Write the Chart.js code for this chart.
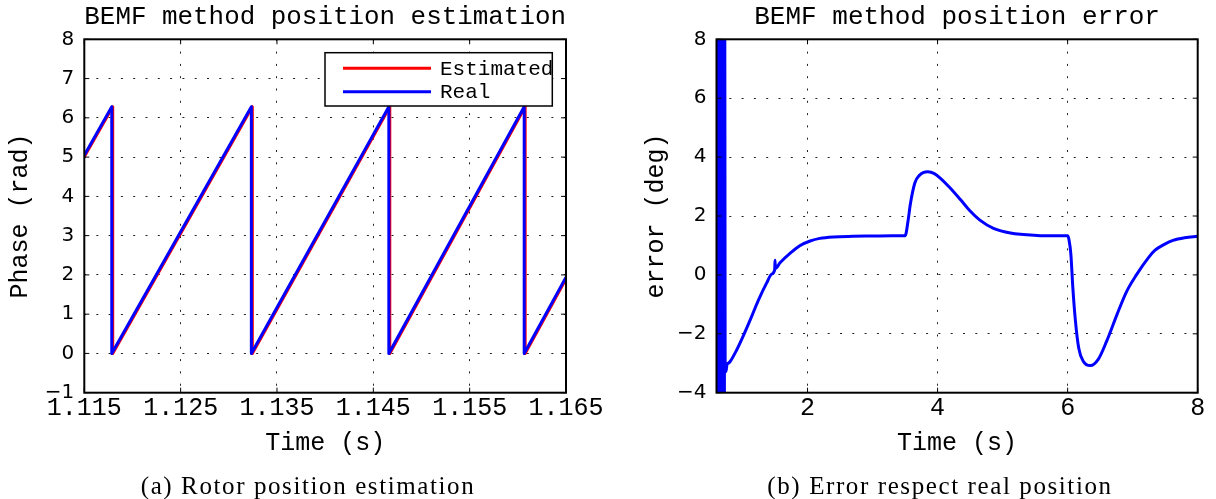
<!DOCTYPE html>
<html><head><meta charset="utf-8">
<script src="https://cdn.jsdelivr.net/npm/chart.js@4/dist/chart.umd.min.js"></script>
<style>
html,body{margin:0;padding:0;background:#fff;}
#wrap{position:relative;width:1216px;height:499px;overflow:hidden;background:#fff;}
canvas{position:absolute;top:0;}
.cap{position:absolute;font-family:'Liberation Serif',serif;font-size:25px;letter-spacing:1.6px;line-height:28px;text-align:center;color:#000;white-space:nowrap;}
</style></head><body>
<div id="wrap">
<canvas id="c1" width="620" height="499" style="left:0"></canvas>
<canvas id="c2" width="596" height="499" style="left:620px"></canvas>
<div class="cap" style="left:108px;width:400px;top:472px">(a) Rotor position estimation</div>
<div class="cap" style="left:740px;width:400px;top:472px">(b) Error respect real position</div>
</div>
<script>
// ---- data: left chart (rotor position) ----
const realTime  = [1.115, 1.11785, 1.11785, 1.13234, 1.13234, 1.14661, 1.14661, 1.16066, 1.16066, 1.165];
const realPhase = [5.05, 6.28, 0, 6.28, 0, 6.28, 0, 6.28, 0, 1.94];
const estTime   = [1.115, 1.11795, 1.11795, 1.13244, 1.13244, 1.14671, 1.14671, 1.16076, 1.16076, 1.165];
const estPhase  = [5.01, 6.28, 0, 6.28, 0, 6.28, 0, 6.28, 0, 1.90];
const phaseXTicks  = [1.115, 1.125, 1.135, 1.145, 1.155, 1.165];
const phaseXLabels = ['1.115', '1.125', '1.135', '1.145', '1.155', '1.165'];
const phaseYTicks  = [-1, 0, 1, 2, 3, 4, 5, 6, 7, 8];
const phaseYLabels = ['\u22121', '0', '1', '2', '3', '4', '5', '6', '7', '8'];

// ---- data: right chart (position error) ----
const errTime = [0.600, 0.606, 0.612, 0.618, 0.624, 0.630, 0.636, 0.642, 0.648, 0.654, 0.660, 0.666, 0.672, 0.678, 0.684, 0.690, 0.696, 0.702, 0.708, 0.714, 0.720, 0.726,
  0.733, 0.746, 0.760, 0.780, 0.810, 0.910, 1.010, 1.120, 1.240, 1.370, 1.450, 1.495, 1.500, 1.505, 1.580, 1.730, 1.880, 2.040, 2.190, 2.400, 2.700, 3.000, 3.300, 3.500,
  3.550, 3.580, 3.650, 3.720, 3.850, 3.950, 4.040, 4.190, 4.350, 4.500, 4.650, 4.860, 5.120, 5.530, 5.800, 6.000,
  6.020, 6.050, 6.080, 6.120, 6.170, 6.240, 6.350, 6.470, 6.600, 6.760, 6.910, 7.060, 7.240, 7.340, 7.480, 7.620, 7.800, 8.000];
const errValue = [-8, 12, -8, 12, -8, 12, -8, 12, -8, 12, -8, 12, -8, 12, -8, 12, -8, 12, -8, 12, -8, 12,
  -3.00, -3.28, -3.05, -3.00, -2.94, -2.55, -2.08, -1.52, -0.88, -0.28, 0.03, 0.18, 0.50, 0.22, 0.42, 0.73, 0.99, 1.15, 1.24, 1.29, 1.31, 1.32, 1.33, 1.33,
  1.90, 2.39, 3.12, 3.38, 3.50, 3.44, 3.29, 2.96, 2.56, 2.17, 1.86, 1.58, 1.42, 1.34, 1.33, 1.33,
  1.20, 0.69, -0.44, -1.57, -2.48, -2.93, -3.08, -2.87, -2.25, -1.34, -0.55, 0.01, 0.58, 0.83, 1.03, 1.17, 1.26, 1.31];
const errXTicks  = [2, 4, 6, 8];
const errXLabels = ['2', '4', '6', '8'];
const errYTicks  = [-4, -2, 0, 2, 4, 6, 8];
const errYLabels = ['\u22124', '\u22122', '0', '2', '4', '6', '8'];

const MONO = "'Liberation Mono', 'Courier New', monospace";
const SANS = "'DejaVu Sans', sans-serif";

const toXY = (xs, ys) => xs.map((x, i) => ({x: x, y: ys[i]}));

// frame, inward ticks and in-plot legend
const framePlugin = {
  id: 'frame',
  afterDraw(chart, args, opts) {
    const ctx = chart.ctx, a = chart.chartArea;
    ctx.save();
    ctx.strokeStyle = '#000';
    ctx.lineWidth = 1;
    ctx.setLineDash([]);
    const xs = chart.scales.x, ys = chart.scales.y;
    xs.ticks.forEach(t => {
      const px = xs.getPixelForValue(t.value);
      ctx.beginPath();
      ctx.moveTo(px, a.bottom); ctx.lineTo(px, a.bottom - 5);
      ctx.moveTo(px, a.top); ctx.lineTo(px, a.top + 5);
      ctx.stroke();
    });
    ys.ticks.forEach(t => {
      const py = ys.getPixelForValue(t.value);
      ctx.beginPath();
      ctx.moveTo(a.left, py); ctx.lineTo(a.left + 5, py);
      ctx.moveTo(a.right, py); ctx.lineTo(a.right - 5, py);
      ctx.stroke();
    });
    ctx.lineWidth = 2;
    ctx.strokeRect(a.left, a.top, a.right - a.left, a.bottom - a.top);
    if (opts && opts.legend) {
      const L = opts.legend;
      const bx = a.right - L.right - L.w, by = a.top + L.top;
      ctx.fillStyle = '#fff';
      ctx.fillRect(bx, by, L.w, L.h);
      ctx.lineWidth = 1.5;
      ctx.strokeRect(bx, by, L.w, L.h);
      ctx.font = '21px ' + MONO;
      ctx.textBaseline = 'middle';
      ctx.textAlign = 'left';
      chart.data.datasets.forEach((ds, i) => {
        const yy = by + L.row0 + i * L.rowGap;
        ctx.strokeStyle = ds.borderColor;
        ctx.lineWidth = 3;
        ctx.beginPath();
        ctx.moveTo(bx + 18, yy); ctx.lineTo(bx + 106, yy);
        ctx.stroke();
        ctx.fillStyle = '#000';
        ctx.fillText(ds.label, bx + 115, yy + 1);
      });
    }
    ctx.restore();
  }
};

function axisX(min, max, ticks, labels, titleText, height) {
  return {
    type: 'linear', min: min, max: max,
    afterBuildTicks: s => { s.ticks = ticks.map(v => ({value: v})); },
    afterFit: s => { s.height = height; s.paddingLeft = 0; s.paddingRight = 0; },
    ticks: { callback: (v, i) => labels[i], font: {family: MONO, size: 25}, color: '#000', padding: 1, maxRotation: 0, autoSkip: false },
    grid: { color: '#222', lineWidth: 1, drawTicks: false },
    border: { display: false, dash: [2, 10.3] },
    title: { display: true, text: titleText, font: {family: MONO, size: 25}, color: '#000', padding: {top: 0, bottom: 40.7} }
  };
}
function axisY(min, max, ticks, labels, titleText, width, titlePad) {
  return {
    type: 'linear', min: min, max: max,
    afterBuildTicks: s => { s.ticks = ticks.map(v => ({value: v})); },
    afterFit: s => { s.width = width; s.paddingTop = 0; s.paddingBottom = 0; },
    ticks: { callback: (v, i) => labels[i], font: {family: SANS, size: 20}, color: '#000', padding: 10, autoSkip: false },
    grid: { color: '#222', lineWidth: 1, drawTicks: false },
    border: { display: false, dash: [2, 10.3] },
    title: { display: true, text: titleText, font: {family: MONO, size: 25}, color: '#000', padding: {top: titlePad, bottom: 0} }
  };
}
function titleOpts(text) {
  return { display: true, text: text, fullSize: false, color: '#000',
    font: {family: MONO, size: 26, weight: 'normal', lineHeight: 1.2}, padding: {top: 2, bottom: 6.1} };
}

new Chart(document.getElementById('c1'), {
  type: 'line',
  data: { datasets: [
    { label: 'Estimated', data: toXY(estTime, estPhase), borderColor: '#ff0000', borderWidth: 3, borderJoinStyle: 'round', pointRadius: 0, tension: 0, order: 1 },
    { label: 'Real', data: toXY(realTime, realPhase), borderColor: '#0000ff', borderWidth: 3, borderJoinStyle: 'round', pointRadius: 0, tension: 0, order: 0 }
  ]},
  options: {
    responsive: false, animation: false, devicePixelRatio: 1,
    layout: { padding: {left: 0, right: 54, top: 0, bottom: 0} },
    plugins: {
      legend: {display: false}, tooltip: {enabled: false},
      title: titleOpts('BEMF method position estimation'),
      frame: { legend: {right: 13.7, top: 13.4, w: 227.3, h: 53.3, row0: 15.6, rowGap: 23.4} }
    },
    scales: {
      x: axisX(1.115, 1.165, phaseXTicks, phaseXLabels, 'Time (s)', 106.3),
      y: axisY(-1, 8, phaseYTicks, phaseYLabels, 'Phase (rad)', 84.3, 5)
    }
  },
  plugins: [framePlugin]
});

new Chart(document.getElementById('c2'), {
  type: 'line',
  data: { datasets: [
    { label: 'Error', data: toXY(errTime, errValue), borderColor: '#0000ff', borderWidth: 3, borderJoinStyle: 'round', pointRadius: 0, cubicInterpolationMode: 'monotone' }
  ]},
  options: {
    responsive: false, animation: false, devicePixelRatio: 1,
    layout: { padding: {left: 0, right: 18.3, top: 0, bottom: 0} },
    plugins: {
      legend: {display: false}, tooltip: {enabled: false},
      title: titleOpts('BEMF method position error'),
      frame: {}
    },
    scales: {
      x: axisX(0.6, 8, errXTicks, errXLabels, 'Time (s)', 106.3),
      y: axisY(-4, 8, errYTicks, errYLabels, 'error (deg)', 96.5, 21)
    }
  },
  plugins: [framePlugin]
});
</script>
</body></html>
